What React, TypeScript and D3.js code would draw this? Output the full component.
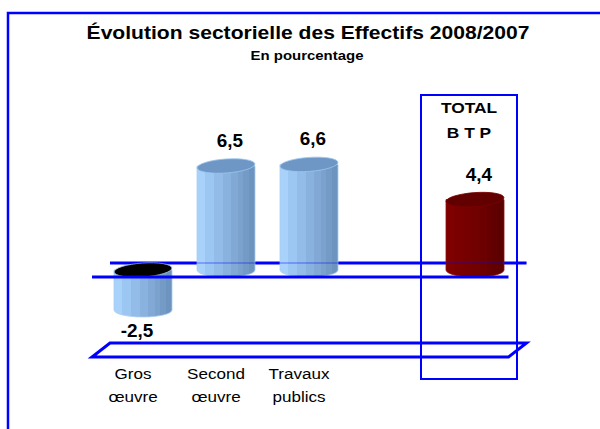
import React, { useRef, useEffect } from 'react';
import * as d3 from 'd3';

const slots = ['gros', 'second', 'travaux', 'gap', 'total'];
const barKeys = ['gros', 'second', 'travaux', 'total'];
const values = [-2.5, 6.5, 6.6, 4.4];
const valueLabels = ['-2,5', '6,5', '6,6', '4,4'];
const categoryLines = [['Gros', 'œuvre'], ['Second', 'œuvre'], ['Travaux', 'publics']];
const totalLines = ['TOTAL', 'B T P'];
const title = 'Évolution sectorielle des Effectifs 2008/2007';
const subtitle = 'En pourcentage';

const BLUE = '#0000ff';
const blueStrips = ['#a9d2fb', '#9dc7f3', '#93bce9', '#8ab2df', '#82a9d5', '#7ba1cd', '#749ac6', '#6d93bf'];
const redStrips = ['#800000', '#7a0000', '#760000', '#710000', '#6c0000', '#660000', '#610000', '#5c0000'];
const stripStops = [0, 0.14, 0.3, 0.45, 0.58, 0.7, 0.8, 0.9, 1];

const App = () => {
  const ref = useRef<SVGSVGElement>(null);

  useEffect(() => {
    const svg = d3.select(ref.current);
    svg.selectAll('*').remove();
    const font = '"Liberation Sans", Arial, sans-serif';

    const x = d3.scalePoint<string>().domain(slots).range([143, 475]);
    const y = d3.scaleLinear().domain([-5, 0]).range([350, 270]);
    const barW = 58;
    const ry = 7;
    // 3D depth offsets of the planes
    const ddx = 9, ddy = 7;
    const planeL = 101, planeR = 517.5;

    const defs = svg.append('defs');
    const grad = (id: string, cols: string[]) => {
      const g = defs.append('linearGradient').attr('id', id).attr('x1', 0).attr('x2', 1).attr('y1', 0).attr('y2', 0);
      cols.forEach((c, i) => {
        g.append('stop').attr('offset', stripStops[i]).attr('stop-color', c);
        g.append('stop').attr('offset', stripStops[i + 1]).attr('stop-color', c);
      });
    };
    grad('gBlue', blueStrips);
    grad('gRed', redStrips);

    // outer frame
    svg.append('path')
      .attr('d', 'M8,440 L8,13 L610,13')
      .attr('fill', 'none').attr('stroke', BLUE).attr('stroke-width', 2.5);

    const text = (s: string, tx: number, ty: number, size: number, weight: string, sx = 1.12) => {
      svg.append('text')
        .attr('transform', `translate(${tx},${ty}) scale(${sx},1)`)
        .attr('text-anchor', 'middle')
        .attr('font-family', font)
        .attr('font-size', size)
        .attr('font-weight', weight)
        .attr('fill', '#000')
        .text(s);
    };

    text(title, 308, 39, 18.5, 'bold', 1.14);
    text(subtitle, 307, 60, 13, 'bold', 1.15);

    // floor plane
    const yf = y(-5);
    svg.append('path')
      .attr('d', `M${planeL - ddx},${yf + ddy} L${planeR - ddx},${yf + ddy} L${planeR + ddx},${yf - ddy} L${planeL + ddx},${yf - ddy} Z`)
      .attr('fill', 'none').attr('stroke', BLUE).attr('stroke-width', 3).attr('stroke-linejoin', 'miter');

    // total box
    const tx = (x('total') as number) - 6;
    svg.append('rect')
      .attr('x', tx - 48).attr('y', 95).attr('width', 96).attr('height', 284)
      .attr('fill', 'none').attr('stroke', BLUE).attr('stroke-width', 2);

    // zero plane back edge
    const y0 = y(0);
    svg.append('line')
      .attr('x1', planeL + ddx).attr('x2', planeR + ddx)
      .attr('y1', y0 - ddy).attr('y2', y0 - ddy)
      .attr('stroke', BLUE).attr('stroke-width', 3);

    // cylinders
    barKeys.forEach((k, i) => {
      const v = values[i];
      const cx = x(k) as number;
      const x0 = cx - barW / 2, x1 = cx + barW / 2;
      const yt = y(Math.max(v, 0));
      const yb = y(Math.min(v, 0));
      const isTotal = k === 'total';
      svg.append('path')
        .attr('d', `M${x0},${yt} L${x0},${yb} A${barW / 2},${ry} 0 0 0 ${x1},${yb} L${x1},${yt} Z`)
        .attr('fill', isTotal ? 'url(#gRed)' : 'url(#gBlue)')
        .attr('stroke', isTotal ? '#8a1010' : '#a8cdf2').attr('stroke-width', 0.8);
      const topFill = v < 0 ? '#000' : isTotal ? '#620000' : '#6f97c5';
      svg.append('ellipse')
        .attr('cx', cx).attr('cy', yt).attr('rx', barW / 2).attr('ry', ry)
        .attr('transform', `rotate(-4,${cx},${yt})`)
        .attr('fill', topFill)
        .attr('stroke', v < 0 ? '#9cc6f2' : isTotal ? '#7a0000' : '#9cc6f2').attr('stroke-width', 0.8);

      const lx = v < 0 ? cx - 6 : cx + 4;
      const ly = v < 0 ? yb + 27 : yt - 19;
      text(valueLabels[i], lx, ly, 17.5, 'bold', 1.08);
    });

    // faint back edge seen through bars
    svg.append('line')
      .attr('x1', planeL + ddx).attr('x2', planeR + ddx)
      .attr('y1', y0 - ddy).attr('y2', y0 - ddy)
      .attr('stroke', BLUE).attr('stroke-width', 2).attr('stroke-opacity', 0.25);

    // zero plane front edge
    svg.append('line')
      .attr('x1', planeL - ddx).attr('x2', planeR - ddx)
      .attr('y1', y0 + ddy).attr('y2', y0 + ddy)
      .attr('stroke', BLUE).attr('stroke-width', 3);

    // category labels
    categoryLines.forEach((lines, i) => {
      const cx = (x(slots[i]) as number) - 10;
      lines.forEach((s, j) => text(s, cx, 379 + j * 23, 15.5, 'normal', 1.1));
    });

    // total label
    totalLines.forEach((s, j) => text(s, tx, 113 + j * 25, 15.5, 'bold', 1.12));
  }, []);

  return (
    <svg ref={ref} width={600} height={429}
      style={{ position: 'absolute', left: 0, top: 0, background: '#fff' }} />
  );
};

export default App;
